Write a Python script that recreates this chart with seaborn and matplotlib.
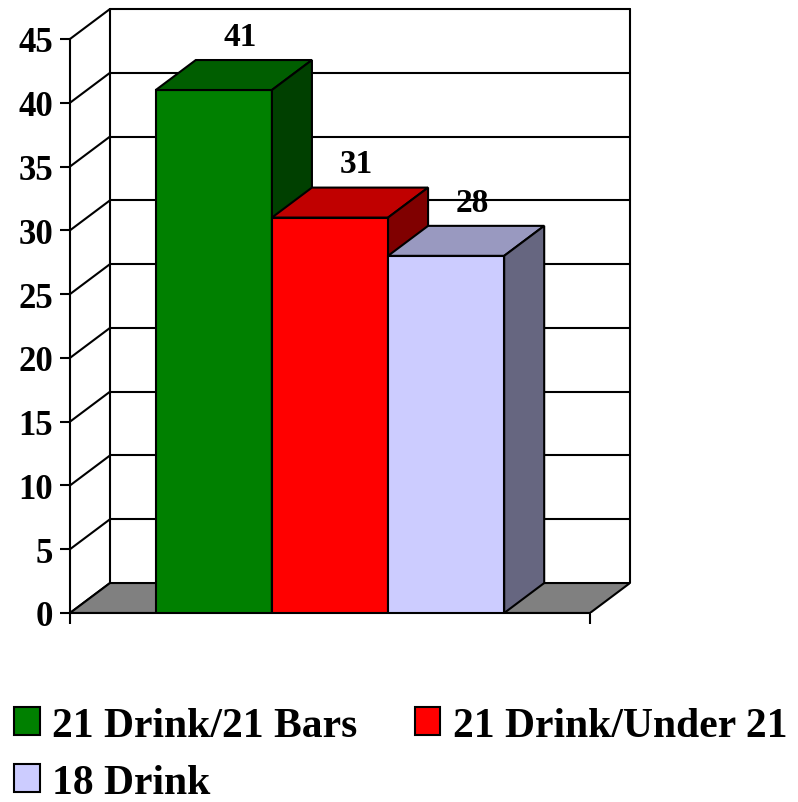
import numpy as np
import pandas as pd
import seaborn as sns
import matplotlib.pyplot as plt

from matplotlib.patches import Patch, Polygon

# data
series = ["21 Drink/21 Bars", "21 Drink/Under 21", "18 Drink"]
values = [41, 31, 28]
y_ticks = [0, 5, 10, 15, 20, 25, 30, 35, 40, 45]

front_colors = ["#008000", "#FF0000", "#CCCCFF"]
top_colors = ["#005E00", "#C00000", "#9999C0"]
side_colors = ["#004000", "#800000", "#666680"]
floor_color = "#808080"

sns.set_style("white")
plt.rcParams["font.family"] = ["Liberation Serif", "DejaVu Serif"]
plt.rcParams["font.weight"] = "bold"
for k in ["text.color", "xtick.color", "ytick.color", "axes.labelcolor", "axes.edgecolor"]:
    plt.rcParams[k] = "black"

# 3d depth offsets (x in category units, y in value units)
dxu = 40 / 520
dyu = 2.35
lw = 1.5

fig = plt.figure(figsize = (7.98, 8.03), dpi = 100)
ax = fig.add_axes([70 / 798, (803 - 614) / 803, 560 / 798, 604 / 803])

df = pd.DataFrame({"group": [""] * len(series), "series": series, "value": values})
sns.barplot(data = df, x = "group", y = "value", hue = "series",
    hue_order = series, palette = front_colors, saturation = 1,
    width = 0.67, edgecolor = "black", linewidth = lw,
    legend = False, ax = ax)

ax.set_xlim(-0.5, 0.5 + dxu)
ax.set_ylim(0, y_ticks[-1] + dyu)

# walls and floor
xl, xr = -0.5, 0.5
for v in y_ticks[1:]:
    ax.plot([xl + dxu, xr + dxu], [v + dyu, v + dyu], color = "black",
        lw = lw, zorder = 0.5, clip_on = False)
for v in y_ticks:
    ax.plot([xl, xl + dxu], [v, v + dyu], color = "black",
        lw = lw, zorder = 0.5, clip_on = False)
for x in [xl + dxu, xr + dxu]:
    ax.plot([x, x], [dyu, y_ticks[-1] + dyu], color = "black",
        lw = lw, zorder = 0.5, clip_on = False)
ax.add_patch(Polygon([[xl, 0], [xr, 0], [xr + dxu, dyu], [xl + dxu, dyu]],
    closed = True, facecolor = floor_color, edgecolor = "black",
    lw = lw, zorder = 0.8))

# top and side faces of each bar
for i, container in enumerate(ax.containers):
    for bar in container:
        x0 = bar.get_x()
        w = bar.get_width()
        h = bar.get_height()
        bar.set_zorder(2 + i)
        top = Polygon([[x0, h], [x0 + w, h], [x0 + w + dxu, h + dyu], [x0 + dxu, h + dyu]],
            closed = True, facecolor = top_colors[i], edgecolor = "black",
            lw = lw, zorder = 2 + i)
        side = Polygon([[x0 + w, 0], [x0 + w + dxu, dyu], [x0 + w + dxu, h + dyu], [x0 + w, h]],
            closed = True, facecolor = side_colors[i], edgecolor = "black",
            lw = lw, zorder = 2 + i)
        ax.add_patch(top)
        ax.add_patch(side)
        ax.text(x0 + w / 2 + 0.05, h + dyu + 1.2, f"{h:.0f}",
            ha = "center", va = "baseline", fontsize = 24,
            fontweight = "bold", zorder = 10)

# axes
for s in ["top", "right"]:
    ax.spines[s].set_visible(False)
ax.spines["left"].set_bounds(0, y_ticks[-1])
ax.spines["bottom"].set_bounds(xl, xr)
for s in ["left", "bottom"]:
    ax.spines[s].set_linewidth(lw)
    ax.spines[s].set_zorder(1)
ax.set_yticks(y_ticks)
ax.set_xticks([xl, xr])
ax.set_xticklabels([])
ax.set_xlabel("")
ax.set_ylabel("")
ax.tick_params(axis = "y", direction = "out", length = 7, width = lw,
    pad = 5, labelsize = 25, left = True)
ax.tick_params(axis = "x", direction = "out", length = 8, width = lw, bottom = True)
for t in ax.get_yticklabels():
    t.set_fontweight("bold")

# legend, row-major order
handles = [Patch(facecolor = c, edgecolor = "black", linewidth = lw) for c in front_colors]
order = [0, 2, 1]
fig.legend([handles[k] for k in order], [series[k] for k in order],
    ncol = 2, loc = "upper left", bbox_to_anchor = (14 / 798, 1 - 708 / 803),
    frameon = False, borderpad = 0, borderaxespad = 0,
    handlelength = 0.62, handleheight = 0.66, handletextpad = 0.3,
    columnspacing = 1.37, labelspacing = 0.45,
    prop = {"family": "Liberation Serif", "weight": "bold", "size": 30})

fig.savefig("out.png", dpi = 100)
